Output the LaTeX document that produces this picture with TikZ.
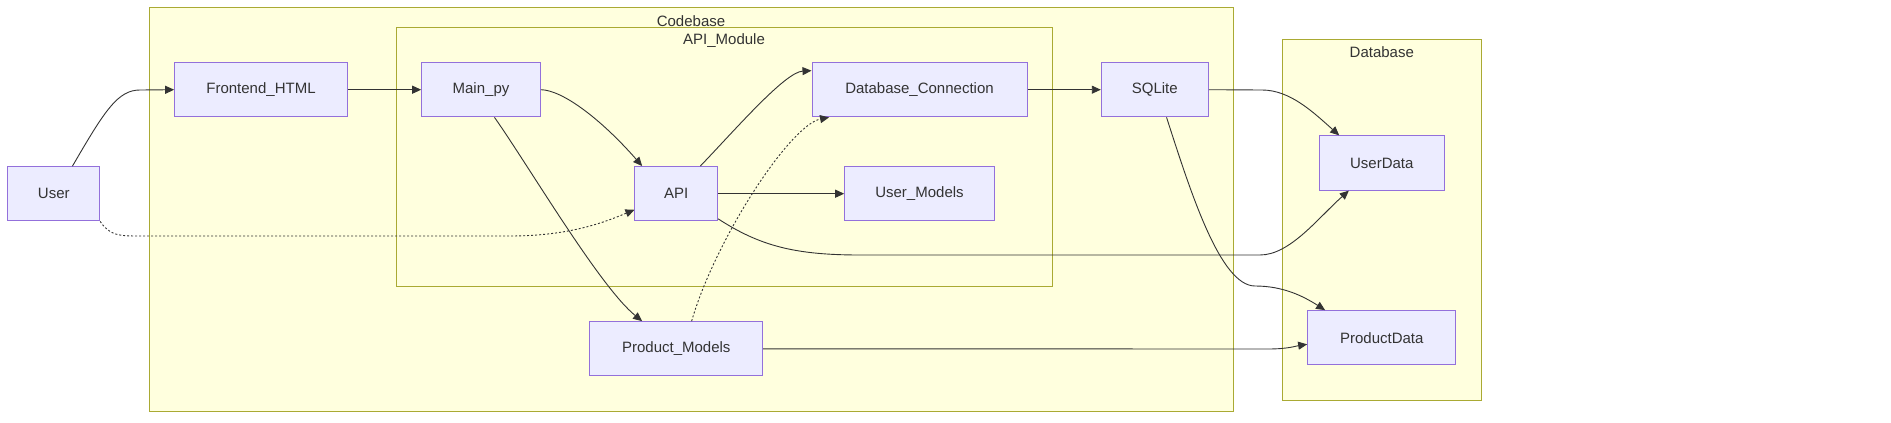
\documentclass[tikz,border=0pt]{standalone}
\usepackage{fontspec}
\setmainfont{Liberation Sans}
\usetikzlibrary{arrows.meta}
\definecolor{nodefill}{HTML}{ECECFF}
\definecolor{nodedraw}{HTML}{9370DB}
\definecolor{clusterfill}{HTML}{FFFFDE}
\definecolor{clusterdraw}{HTML}{AAAA33}
\definecolor{edgecol}{HTML}{333333}
\definecolor{txt}{HTML}{333333}
\tikzset{
  box/.style={draw=nodedraw, fill=nodefill, line width=1pt, minimum height=54.3pt, inner sep=0pt, text=txt, font=\fontsize{15}{18}\selectfont},
  cluster/.style={draw=clusterdraw, fill=clusterfill, line width=1pt},
  clabel/.style={text=txt, font=\fontsize{15}{18}\selectfont, inner sep=0pt},
  link/.style={draw=edgecol, line width=0.9pt, -{Triangle[length=9pt,width=8pt]}},
  dotlink/.style={draw=edgecol, line width=0.9pt, dash pattern=on 2pt off 2pt, -{Triangle[length=9pt,width=8pt]}}
}
\begin{document}
\begin{tikzpicture}[x=1pt,y=-1pt]
\useasboundingbox (0,0) rectangle (1891,423);
% clusters
\draw[cluster] (149.6,7.7) rectangle (1233.3,411);
\node[clabel] (lcode) at (691,20.7) {Codebase};
\draw[cluster] (396.8,27.7) rectangle (1052,286.8);
\node[clabel] (lapi) at (724,40.7) {API\_Module};
\draw[cluster] (1282.7,39) rectangle (1481,400);
\node[clabel] (ldb) at (1381.8,52.3) {Database};
% nodes
\node[box, minimum width=91.8pt] (user) at (53.8,193.8) {User};
\node[box, minimum width=172.7pt] (fe) at (261,89.7) {Frontend\_HTML};
\node[box, minimum width=118.6pt] (main) at (481,89.7) {Main\_py};
\node[box, minimum width=82.7pt] (api) at (676.3,193.7) {API};
\node[box, minimum width=215pt] (dbc) at (919.5,89.7) {Database\_Connection};
\node[box, minimum width=149.6pt] (um) at (919.5,193.7) {User\_Models};
\node[box, minimum width=107pt] (sql) at (1154.8,89.7) {SQLite};
\node[box, minimum width=172.7pt] (pm) at (676.3,348.8) {Product\_Models};
\node[box, minimum width=125pt] (ud) at (1381.8,163) {UserData};
\node[box, minimum width=148.3pt] (pd) at (1381.8,337.8) {ProductData};
% edges
\draw[link] (user.56) .. controls (105,110) and (118,90) .. (140,90) -- (fe.west);
\draw[link] (fe.east) -- (main.west);
\draw[link] (main.east) .. controls (562,90) and (600,118) .. (api.141);
\draw[link] (main.296) .. controls (530,168) and (600,287) .. (pm.141);
\draw[dotlink] (user.south east) .. controls (110,236) and (120,236) .. (140,236) -- (510,236) .. controls (570,236) and (605,222) .. (api.201);
\draw[link] (api.49) .. controls (735,130) and (785,72) .. (dbc.170);
\draw[link] (api.east) -- (um.west);
\draw[dotlink] (pm.61) .. controls (715,240) and (790,125) .. (dbc.197);
\draw[link] (dbc.east) -- (sql.west);
\draw[link] (sql.east) -- (1262,90) .. controls (1290,90) and (1313,112) .. (ud.147);
\draw[link] (api.329) .. controls (760,246) and (795,255) .. (860,255) -- (1260,255) .. controls (1290,255) and (1318,218) .. (ud.220);
\draw[link] (sql.293) .. controls (1190,190) and (1220,286) .. (1255,286) .. controls (1283,286) and (1303,296) .. (pd.154);
\draw[link] (pm.east) -- (1268,349) .. controls (1288,349) and (1296,346) .. (pd.185.5);
\end{tikzpicture}
\end{document}
